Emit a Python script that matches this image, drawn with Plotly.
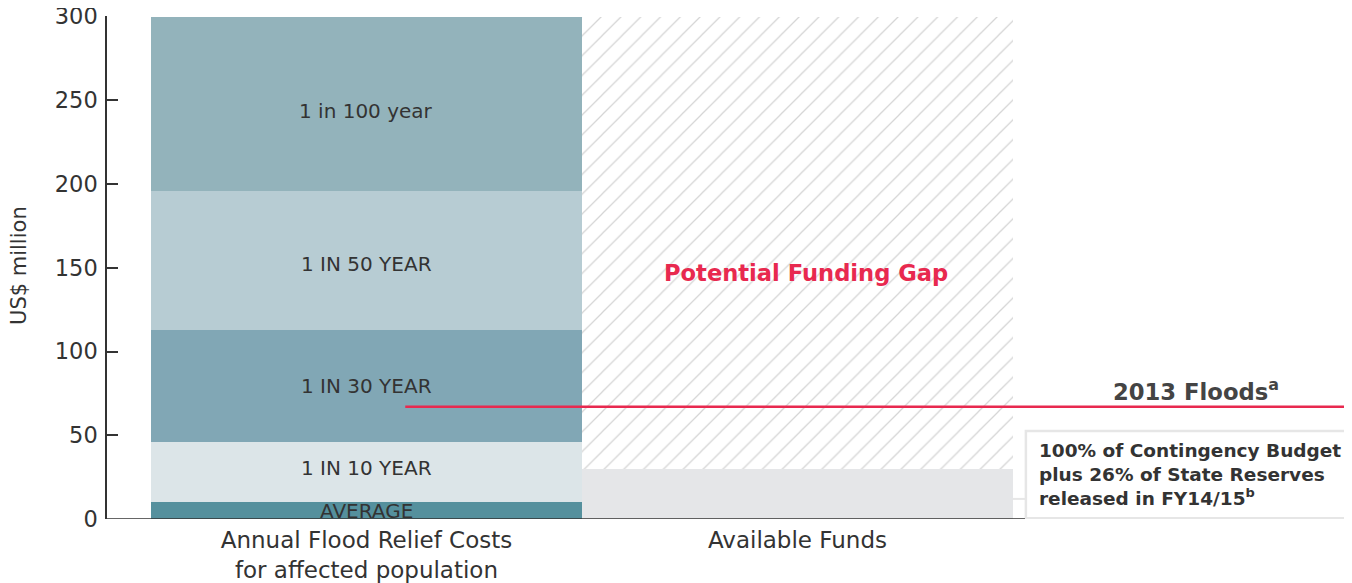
import plotly.graph_objects as go

# ---- data ----
categories = ["Annual Flood Relief Costs<br>for affected population", "Available Funds"]
cost_labels = ["AVERAGE", "1 IN 10 YEAR", "1 IN 30 YEAR", "1 IN 50 YEAR", "1 in 100 year"]
cost_tops = [10, 46, 113, 196, 300]          # cumulative upper bound of each band (US$ million)
available_funds = 30                          # US$ million
funding_ceiling = 300                         # top of the potential funding gap
floods_2013 = 67                              # 2013 floods cost (US$ million)
y_ticks = [0, 50, 100, 150, 200, 250, 300]

# styling
cost_colors = ["#55909D", "#DCE5E8", "#81A7B5", "#B7CCD3", "#93B3BB"]
label_yshift = [0, 4, 0, -4, -7]
FONT = "DejaVu Sans"
DARK = "#333333"
RED = "#E8294F"

fig = go.Figure()

bottoms = [0] + cost_tops[:-1]
for lab, lo, hi, col, ys in zip(cost_labels, bottoms, cost_tops, cost_colors, label_yshift):
    fig.add_trace(go.Bar(x=[0], y=[hi - lo], width=1, marker=dict(color=col, line=dict(width=0)),
                         name=lab, hoverinfo="skip"))
    fig.add_annotation(x=0, y=(lo + hi) / 2, yshift=ys, text=lab, showarrow=False,
                       font=dict(family=FONT, size=20, color=DARK))

fig.add_trace(go.Bar(x=[1], y=[available_funds], width=1,
                     marker=dict(color="#E5E6E8", line=dict(width=0)), hoverinfo="skip"))
fig.add_trace(go.Bar(x=[1], y=[funding_ceiling - available_funds], width=1,
                     marker=dict(color="white", line=dict(width=0),
                                 pattern=dict(shape="/", fgcolor="#ABABAB", bgcolor="white",
                                              size=14, solidity=0.09)),
                     hoverinfo="skip"))

fig.add_annotation(x=1, y=147, xshift=9, text="<b>Potential Funding Gap</b>", showarrow=False,
                   font=dict(family=FONT, size=22.6, color=RED))

# 2013 floods line
fig.add_shape(type="line", xref="x", yref="y", x0=0.09, x1=2.282, y0=floods_2013, y1=floods_2013,
              line=dict(color=RED, width=2.5))
fig.add_annotation(x=1.925, y=floods_2013 + 10, text="<b>2013 Floods<sup>a</sup></b>", showarrow=False,
                   font=dict(family=FONT, size=22.7, color="#444444"))

# available funds note box
fig.add_shape(type="line", xref="x", yref="y", x0=1.5, x1=1.53, y0=12, y1=12,
              line=dict(color="#E6E6E6", width=2))
fig.add_shape(type="rect", xref="x", yref="y", x0=1.53, x1=2.28, y0=0.5, y1=52.5,
              line=dict(color="#E6E6E6", width=2.5), fillcolor="white")
fig.add_annotation(x=1.556, y=26.5, xanchor="left", align="left", showarrow=False,
                   text="<b>100% of Contingency Budget<br>plus 26% of State Reserves<br>released in FY14/15<sup>b</sup></b>",
                   font=dict(family=FONT, size=18.5, color=DARK))

# x baseline
fig.add_shape(type="line", xref="paper", yref="y", x0=0, x1=0.7385, y0=0, y1=0,
              line=dict(color=DARK, width=1.5))

# y title
fig.add_annotation(xref="paper", yref="paper", x=0, y=0.503, xshift=-102, text="US$ million",
                   textangle=-90, showarrow=False, font=dict(family=FONT, size=21, color=DARK))

fig.update_layout(
    width=1344, height=575,
    margin=dict(l=99, r=2, t=8, b=64, autoexpand=False),
    barmode="stack", bargap=0,
    showlegend=False,
    plot_bgcolor="white", paper_bgcolor="white",
    font=dict(family=FONT, color=DARK),
    xaxis=dict(range=[-0.602, 2.282], tickvals=[0, 1], ticktext=categories,
               showline=False, showgrid=False, zeroline=False, ticks="",
               ticklabelstandoff=5, automargin=False,
               tickfont=dict(size=23, color=DARK)),
    yaxis=dict(range=[0, 300.3], tickvals=y_ticks, showline=True, linecolor=DARK, linewidth=1.5,
               ticks="inside", ticklen=11, tickwidth=1.5, tickcolor=DARK,
               ticklabelstandoff=3, ticklabeloverflow="allow", automargin=False,
               showgrid=False, zeroline=False, tickfont=dict(size=22.5, color=DARK)),
)

fig.write_html("out.html")
